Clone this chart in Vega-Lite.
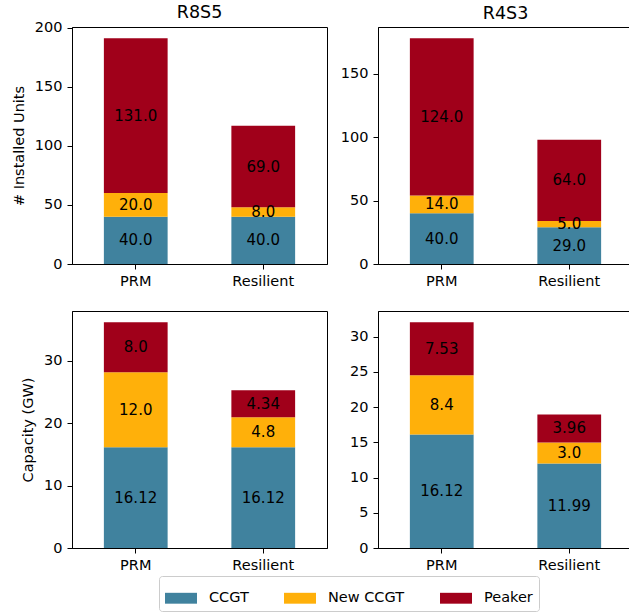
{
  "$schema": "https://vega.github.io/schema/vega-lite/v6.json",
  "padding": {"left": 10, "top": 3, "right": 0, "bottom": 0},
  "background": "white",
  "data": {"values": [
    {"metric": "Units", "scenario": "R8S5", "case": "PRM", "tech": "CCGT", "value": 40, "label": "40.0"},
    {"metric": "Units", "scenario": "R8S5", "case": "PRM", "tech": "New CCGT", "value": 20, "label": "20.0"},
    {"metric": "Units", "scenario": "R8S5", "case": "PRM", "tech": "Peaker", "value": 131, "label": "131.0"},
    {"metric": "Units", "scenario": "R8S5", "case": "Resilient", "tech": "CCGT", "value": 40, "label": "40.0"},
    {"metric": "Units", "scenario": "R8S5", "case": "Resilient", "tech": "New CCGT", "value": 8, "label": "8.0"},
    {"metric": "Units", "scenario": "R8S5", "case": "Resilient", "tech": "Peaker", "value": 69, "label": "69.0"},
    {"metric": "Units", "scenario": "R4S3", "case": "PRM", "tech": "CCGT", "value": 40, "label": "40.0"},
    {"metric": "Units", "scenario": "R4S3", "case": "PRM", "tech": "New CCGT", "value": 14, "label": "14.0"},
    {"metric": "Units", "scenario": "R4S3", "case": "PRM", "tech": "Peaker", "value": 124, "label": "124.0"},
    {"metric": "Units", "scenario": "R4S3", "case": "Resilient", "tech": "CCGT", "value": 29, "label": "29.0"},
    {"metric": "Units", "scenario": "R4S3", "case": "Resilient", "tech": "New CCGT", "value": 5, "label": "5.0"},
    {"metric": "Units", "scenario": "R4S3", "case": "Resilient", "tech": "Peaker", "value": 64, "label": "64.0"},
    {"metric": "Capacity", "scenario": "R8S5", "case": "PRM", "tech": "CCGT", "value": 16.12, "label": "16.12"},
    {"metric": "Capacity", "scenario": "R8S5", "case": "PRM", "tech": "New CCGT", "value": 12.0, "label": "12.0"},
    {"metric": "Capacity", "scenario": "R8S5", "case": "PRM", "tech": "Peaker", "value": 8.0, "label": "8.0"},
    {"metric": "Capacity", "scenario": "R8S5", "case": "Resilient", "tech": "CCGT", "value": 16.12, "label": "16.12"},
    {"metric": "Capacity", "scenario": "R8S5", "case": "Resilient", "tech": "New CCGT", "value": 4.8, "label": "4.8"},
    {"metric": "Capacity", "scenario": "R8S5", "case": "Resilient", "tech": "Peaker", "value": 4.34, "label": "4.34"},
    {"metric": "Capacity", "scenario": "R4S3", "case": "PRM", "tech": "CCGT", "value": 16.12, "label": "16.12"},
    {"metric": "Capacity", "scenario": "R4S3", "case": "PRM", "tech": "New CCGT", "value": 8.4, "label": "8.4"},
    {"metric": "Capacity", "scenario": "R4S3", "case": "PRM", "tech": "Peaker", "value": 7.53, "label": "7.53"},
    {"metric": "Capacity", "scenario": "R4S3", "case": "Resilient", "tech": "CCGT", "value": 11.99, "label": "11.99"},
    {"metric": "Capacity", "scenario": "R4S3", "case": "Resilient", "tech": "New CCGT", "value": 3.0, "label": "3.0"},
    {"metric": "Capacity", "scenario": "R4S3", "case": "Resilient", "tech": "Peaker", "value": 3.96, "label": "3.96"}
  ]},
  "columns": 2,
  "spacing": {"column": 51, "row": 47},
  "bounds": "flush",
  "concat": [
    {
      "width": 255, "height": 237,
      "title": {"text": "R8S5", "offset": -2},
      "transform": [
        {"filter": "datum.metric === 'Units' && datum.scenario === 'R8S5'"},
        {"stack": "value", "groupby": ["case"], "sort": [{"field": "tech", "order": "ascending"}], "as": ["v0", "v1"]},
        {"calculate": "(datum.v0 + datum.v1) / 2", "as": "mid"}
      ],
      "encoding": {
        "x": {"field": "case", "type": "nominal", "scale": {"paddingInner": 0.5, "paddingOuter": 0.25}, "axis": {"title": null, "labelAngle": 0}}
      },
      "layer": [
        {"mark": "bar", "encoding": {
          "y": {"field": "v0", "type": "quantitative", "scale": {"domain": [0, 200.55], "nice": false}, "axis": {"title": "# Installed Units", "values": [0, 50, 100, 150, 200]}},
          "y2": {"field": "v1"},
          "color": {"field": "tech", "type": "nominal", "scale": {"domain": ["CCGT", "New CCGT", "Peaker"], "range": ["#40829e", "#ffb00a", "#a0001a"]}, "legend": {"title": null}}
        }},
        {"mark": {"type": "text", "fontSize": 15, "color": "black"}, "encoding": {
          "y": {"field": "mid", "type": "quantitative", "axis": {"title": "# Installed Units", "values": [0, 50, 100, 150, 200]}},
          "text": {"field": "label"}
        }}
      ]
    },
    {
      "width": 255, "height": 237,
      "title": {"text": "R4S3", "offset": 5},
      "transform": [
        {"filter": "datum.metric === 'Units' && datum.scenario === 'R4S3'"},
        {"stack": "value", "groupby": ["case"], "sort": [{"field": "tech", "order": "ascending"}], "as": ["v0", "v1"]},
        {"calculate": "(datum.v0 + datum.v1) / 2", "as": "mid"}
      ],
      "encoding": {
        "x": {"field": "case", "type": "nominal", "scale": {"paddingInner": 0.5, "paddingOuter": 0.25}, "axis": {"title": null, "labelAngle": 0}}
      },
      "layer": [
        {"mark": "bar", "encoding": {
          "y": {"field": "v0", "type": "quantitative", "scale": {"domain": [0, 186.9], "nice": false}, "axis": {"title": null, "values": [0, 50, 100, 150]}},
          "y2": {"field": "v1"},
          "color": {"field": "tech", "type": "nominal", "scale": {"domain": ["CCGT", "New CCGT", "Peaker"], "range": ["#40829e", "#ffb00a", "#a0001a"]}, "legend": {"title": null}}
        }},
        {"mark": {"type": "text", "fontSize": 15, "color": "black"}, "encoding": {
          "y": {"field": "mid", "type": "quantitative", "axis": {"title": null, "values": [0, 50, 100, 150]}},
          "text": {"field": "label"}
        }}
      ]
    },
    {
      "width": 255, "height": 237,
      "transform": [
        {"filter": "datum.metric === 'Capacity' && datum.scenario === 'R8S5'"},
        {"stack": "value", "groupby": ["case"], "sort": [{"field": "tech", "order": "ascending"}], "as": ["v0", "v1"]},
        {"calculate": "(datum.v0 + datum.v1) / 2", "as": "mid"}
      ],
      "encoding": {
        "x": {"field": "case", "type": "nominal", "scale": {"paddingInner": 0.5, "paddingOuter": 0.25}, "axis": {"title": null, "labelAngle": 0}}
      },
      "layer": [
        {"mark": "bar", "encoding": {
          "y": {"field": "v0", "type": "quantitative", "scale": {"domain": [0, 37.93], "nice": false}, "axis": {"title": "Capacity (GW)", "values": [0, 10, 20, 30]}},
          "y2": {"field": "v1"},
          "color": {"field": "tech", "type": "nominal", "scale": {"domain": ["CCGT", "New CCGT", "Peaker"], "range": ["#40829e", "#ffb00a", "#a0001a"]}, "legend": {"title": null}}
        }},
        {"mark": {"type": "text", "fontSize": 15, "color": "black"}, "encoding": {
          "y": {"field": "mid", "type": "quantitative", "axis": {"title": "Capacity (GW)", "values": [0, 10, 20, 30]}},
          "text": {"field": "label"}
        }}
      ]
    },
    {
      "width": 255, "height": 237,
      "transform": [
        {"filter": "datum.metric === 'Capacity' && datum.scenario === 'R4S3'"},
        {"stack": "value", "groupby": ["case"], "sort": [{"field": "tech", "order": "ascending"}], "as": ["v0", "v1"]},
        {"calculate": "(datum.v0 + datum.v1) / 2", "as": "mid"}
      ],
      "encoding": {
        "x": {"field": "case", "type": "nominal", "scale": {"paddingInner": 0.5, "paddingOuter": 0.25}, "axis": {"title": null, "labelAngle": 0}}
      },
      "layer": [
        {"mark": "bar", "encoding": {
          "y": {"field": "v0", "type": "quantitative", "scale": {"domain": [0, 33.65], "nice": false}, "axis": {"title": null, "values": [0, 5, 10, 15, 20, 25, 30]}},
          "y2": {"field": "v1"},
          "color": {"field": "tech", "type": "nominal", "scale": {"domain": ["CCGT", "New CCGT", "Peaker"], "range": ["#40829e", "#ffb00a", "#a0001a"]}, "legend": {"title": null}}
        }},
        {"mark": {"type": "text", "fontSize": 15, "color": "black"}, "encoding": {
          "y": {"field": "mid", "type": "quantitative", "axis": {"title": null, "values": [0, 5, 10, 15, 20, 25, 30]}},
          "text": {"field": "label"}
        }}
      ]
    }
  ],
  "config": {
    "font": "DejaVu Sans",
    "view": {"stroke": "black", "strokeWidth": 1},
    "axis": {
      "grid": false, "domainColor": "black", "tickColor": "black", "labelColor": "black", "titleColor": "black",
      "labelFont": "DejaVu Sans", "titleFont": "DejaVu Sans", "labelFontSize": 14.5, "titleFontSize": 14.5,
      "titleFontWeight": "normal", "tickSize": 5, "labelPadding": 5, "titlePadding": 8, "labelOverlap": false
    },
    "title": {"font": "DejaVu Sans", "fontSize": 17.5, "fontWeight": "normal", "color": "black"},
    "text": {"font": "DejaVu Sans"},
    "legend": {
      "orient": "none", "legendX": 87, "legendY": 549, "direction": "horizontal",
      "symbolType": "M-1,-0.34H1V0.34H-1Z", "symbolSize": 1024, "symbolStrokeWidth": 0, "symbolOpacity": 1,
      "labelFont": "DejaVu Sans", "labelFontSize": 14.5, "labelColor": "black", "labelOffset": 12,
      "columnPadding": 35, "padding": 6, "strokeColor": "#cccccc", "cornerRadius": 3, "fillColor": "white"
    }
  }
}
